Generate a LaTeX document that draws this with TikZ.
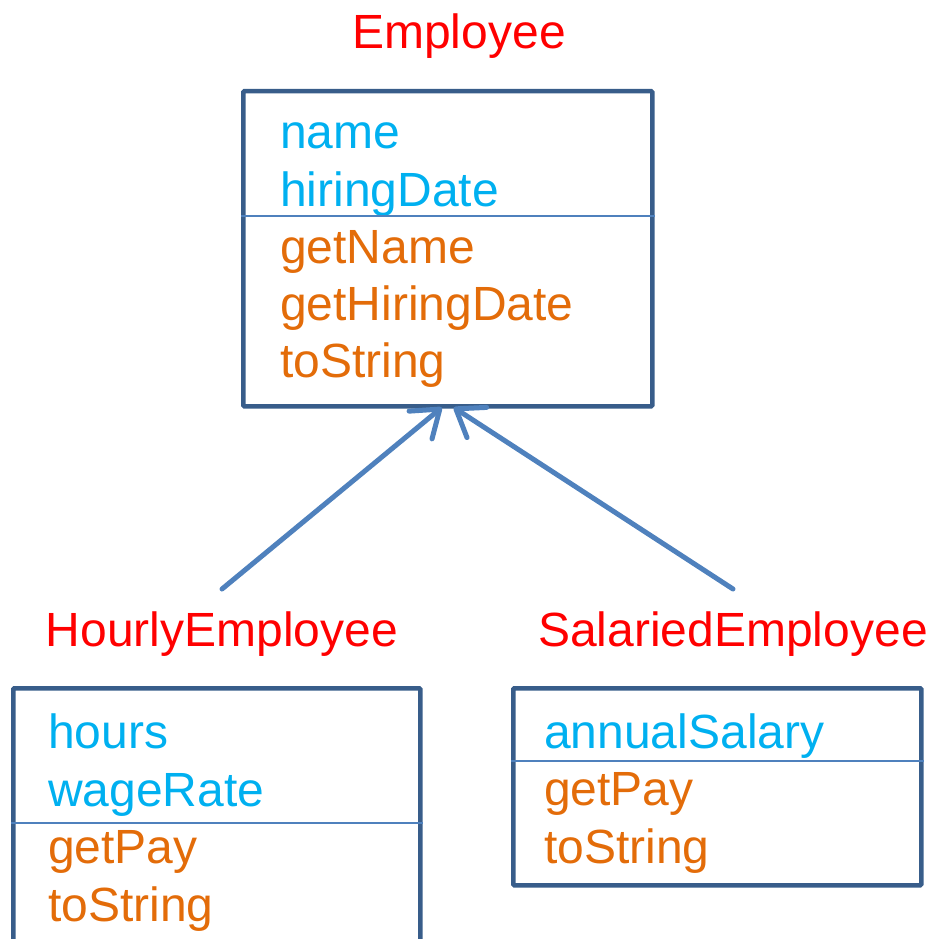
\documentclass[tikz,border=0pt]{standalone}
\usepackage{fontspec}
\setmainfont{Liberation Sans}
\usetikzlibrary{arrows.meta,positioning}
\definecolor{boxline}{RGB}{56,93,138}
\definecolor{arrline}{RGB}{79,129,189}
\definecolor{attrcol}{RGB}{0,176,240}
\definecolor{methcol}{RGB}{227,108,9}

\begin{document}
\begin{tikzpicture}[x=1pt,y=-1pt,
    every node/.style={inner sep=0pt,font=\fontsize{48}{57}\selectfont},
    cbox/.style={draw=boxline,line width=4.5pt,anchor=north west,rounded corners=1pt},
    ctitle/.style={text=red,anchor=base},
    cattr/.style={text=attrcol,anchor=base west},
    cmeth/.style={text=methcol,anchor=base west},
    cdiv/.style={draw=arrline,line width=1.5pt},
    inherit/.style={draw=arrline,line width=5pt,line cap=round,
      -{Straight Barb[length=25pt,width=36pt,line cap=round,round]}}]
 \useasboundingbox (0,0) rectangle (930,939);
 % Employee
 \node[ctitle] (empT) at (459,49) {Employee};
 \node[cbox,minimum width=409pt,minimum height=315pt] (emp) at (241,89) {};
 \node[cattr] (empA1) at (280,149) {name};
 \node[cattr] (empA2) at (280,206) {hiringDate};
 \node[cmeth] (empM1) at (280,263) {getName};
 \node[cmeth] (empM2) at (280,320) {getHiringDate};
 \node[cmeth] (empM3) at (280,377) {toString};
 \draw[cdiv] (emp.west |- 0,216) -- (emp.east |- 0,216);
 % HourlyEmployee
 \node[ctitle] (hourT) at (222,646) {HourlyEmployee};
 \node[cbox,minimum width=407pt,minimum height=320pt] (hour) at (11,686) {};
 \node[cattr] (hourA1) at (48,748) {hours};
 \node[cattr] (hourA2) at (48,806) {wageRate};
 \node[cmeth] (hourM1) at (48,863) {getPay};
 \node[cmeth] (hourM2) at (48,921) {toString};
 \draw[cdiv] (hour.west |- 0,823) -- (hour.east |- 0,823);
 % SalariedEmployee
 \node[ctitle] (salT) at (733,646) {SalariedEmployee};
 \node[cbox,minimum width=408pt,minimum height=197pt] (sal) at (511,686) {};
 \node[cattr] (salA1) at (544,748) {annualSalary};
 \node[cmeth] (salM1) at (544,805) {getPay};
 \node[cmeth] (salM2) at (544,863) {toString};
 \draw[cdiv] (sal.west |- 0,761) -- (sal.east |- 0,761);
 % inheritance
 \coordinate (hourTop) at ([yshift=22pt]hourT.north);
 \coordinate (salTop) at ([yshift=22pt]salT.north);
 \draw[inherit] (hourTop) -- ([xshift=-6pt,yshift=1pt]emp.south);
 \draw[inherit] (salTop) -- ([xshift=6pt,yshift=1pt]emp.south);
\end{tikzpicture}
\end{document}
